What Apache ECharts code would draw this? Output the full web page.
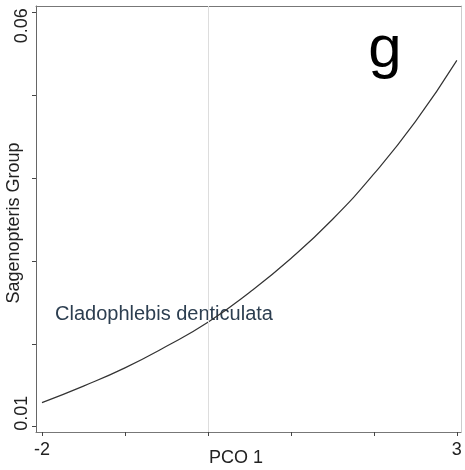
<!DOCTYPE html>
<html>
<head>
<meta charset="utf-8">
<script src="https://cdn.jsdelivr.net/npm/echarts@6/dist/echarts.min.js"></script>
<style>html,body{margin:0;padding:0;background:#fff;}#c{width:465px;height:470px;}</style>
</head>
<body>
<div id="c"></div>
<script>
// Data
const xValues = [-2, -1.5, -1, -0.5, 0, 0.5, 1, 1.5, 2, 2.5, 3];
const yValues = [0.0129, 0.0149, 0.0171, 0.0197, 0.0226, 0.0262, 0.0303, 0.0350, 0.0405, 0.0468, 0.0542];
const xTicks = [-2, -1, 0, 1, 2, 3];
const xTickLabels = [-2, 3];
const yTicks = [0.01, 0.02, 0.03, 0.04, 0.05, 0.06];
const yTickLabels = [0.01, 0.06];
const refLineX = 0;
const xName = 'PCO 1';
const yName = 'Sagenopteris Group';
const speciesLabel = 'Cladophlebis denticulata';
const panelLetter = 'g';

const FONT = 'Liberation Sans, Arial, sans-serif';
const chart = echarts.init(document.getElementById('c'), null, {renderer: 'canvas'});
const points = xValues.map((x, i) => [x, yValues[i]]);

chart.setOption({
  backgroundColor: '#ffffff',
  animation: false,
  grid: {left: 36, right: 4, top: 6, bottom: 38, containLabel: false, outerBoundsMode: 'none'},
  xAxis: [{
    type: 'value', min: -2.072, max: 3.05,
    name: xName, nameLocation: 'middle', nameGap: 17, nameMoveOverlap: false,
    nameTextStyle: {fontFamily: FONT, fontSize: 18, color: '#222', padding: [0, 25, 0, 0]},
    axisLine: {show: true, onZero: false, lineStyle: {color: '#777', width: 1}},
    axisTick: {show: true, length: 4, customValues: xTicks, lineStyle: {color: '#444'}},
    axisLabel: {show: true, customValues: xTickLabels, margin: 9, fontFamily: FONT, fontSize: 18, color: '#222'},
    splitLine: {show: false}
  }, {
    type: 'value', min: -2.072, max: 3.05, position: 'top',
    axisLine: {show: true, onZero: false, lineStyle: {color: '#777', width: 1}},
    axisTick: {show: false}, axisLabel: {show: false}, splitLine: {show: false}
  }],
  yAxis: [{
    type: 'value', min: 0.00936, max: 0.06076, position: 'left',
    name: yName, nameLocation: 'middle', nameGap: 13, nameMoveOverlap: false,
    nameTextStyle: {fontFamily: FONT, fontSize: 18, color: '#222', padding: [0, 8, 0, 0]},
    axisLine: {show: true, onZero: false, lineStyle: {color: '#666', width: 1}},
    axisTick: {show: true, length: 4, customValues: yTicks, lineStyle: {color: '#444'}},
    axisLabel: {
      show: true, customValues: yTickLabels, rotate: 90, margin: 5,
      fontFamily: FONT, fontSize: 18, color: '#222',
      formatter: v => (v > 0.05 ? '{t|0.06}' : '{b|0.01}'),
      rich: {
        t: {fontFamily: FONT, fontSize: 18, color: '#222', padding: [0, 27, 0, 0]},
        b: {fontFamily: FONT, fontSize: 18, color: '#222', padding: [0, 0, 0, 27]}
      }
    },
    splitLine: {show: false}
  }, {
    type: 'value', min: 0.00936, max: 0.06076, position: 'right',
    axisLine: {show: true, onZero: false, lineStyle: {color: '#cccccc', width: 1}},
    axisTick: {show: false}, axisLabel: {show: false}, splitLine: {show: false}
  }],
  series: [{
    type: 'line', data: points, smooth: true, showSymbol: false,
    lineStyle: {color: '#333', width: 1.2},
    markLine: {
      silent: true, symbol: 'none', label: {show: false},
      lineStyle: {color: '#dddddd', width: 1, type: 'solid'},
      data: [{xAxis: refLineX}]
    }
  }],
  graphic: [
    {type: 'text', x: 385, y: 50, style: {text: panelLetter, fontFamily: FONT, fontSize: 60, fill: '#000', align: 'center', verticalAlign: 'middle'}},
    {type: 'text', x: 55, y: 314, style: {text: speciesLabel, fontFamily: FONT, fontSize: 20, fill: '#2c3e50', align: 'left', verticalAlign: 'middle'}}
  ]
});
</script>
</body>
</html>
